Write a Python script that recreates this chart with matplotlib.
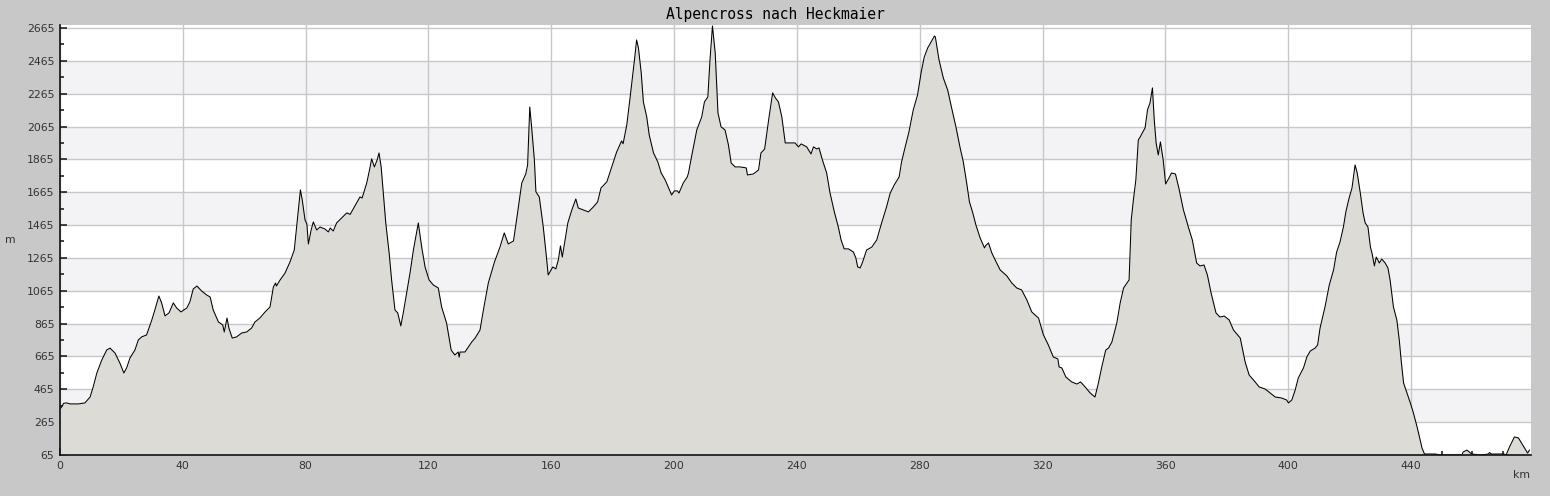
import matplotlib
matplotlib.use('Agg')
from matplotlib import pyplot as plt
from matplotlib.ticker import MultipleLocator, FixedLocator
import numpy as np

# track profile: distance (km) / elevation (m)
km = [0.0, 0.3, 1.2, 2.2, 3.3, 6.0, 8.1, 9.8, 10.8, 12.0, 13.6, 15.2, 16.3, 17.9, 19.5, 20.8, 21.7, 22.8,
      24.4, 25.5, 26.6, 28.2, 29.9, 30.9, 32.2, 33.1, 34.2, 35.5, 36.9, 38.0, 39.4, 41.3, 42.3, 43.4, 44.6,
      46.1, 47.8, 48.9, 49.9, 51.6, 53.0, 53.5, 54.4, 55.0, 56.1, 57.5, 59.2, 60.8, 62.4, 63.5, 65.1, 66.8,
      68.4, 69.5, 70.2, 70.5, 71.7, 73.3, 74.9, 76.3, 77.3, 78.3, 78.9, 79.8, 80.4, 80.9, 81.8, 82.5, 83.6,
      84.7, 86.3, 87.4, 88.0, 89.0, 90.1, 91.7, 93.4, 94.5, 95.5, 96.6, 97.7, 98.4, 99.9, 100.8, 101.5,
      102.4, 103.3, 103.9, 104.6, 105.3, 106.1, 107.2, 108.0, 109.1, 110.0, 111.0, 111.8, 112.9, 114.0,
      115.1, 116.7, 117.8, 118.9, 120.2, 121.6, 123.2, 124.3, 125.9, 127.4, 128.6, 129.7, 130.0, 130.3,
      131.9, 134.1, 135.2, 136.8, 137.9, 139.5, 141.5, 143.3, 144.7, 146.0, 147.7, 148.7, 150.4, 151.7,
      152.3, 153.0, 153.6, 154.5, 155.0, 156.1, 157.4, 158.3, 159.0, 160.5, 161.5, 162.3, 163.0, 163.6,
      165.4, 166.7, 168.0, 168.8, 170.5, 172.1, 173.7, 175.1, 176.2, 178.1, 179.7, 181.3, 182.9, 183.4,
      184.6, 185.7, 187.1, 187.8, 188.4, 189.3, 190.0, 191.1, 191.9, 193.3, 194.7, 195.8, 197.1, 198.2,
      199.2, 200.1, 201.1, 201.6, 203.0, 204.3, 204.7, 205.8, 207.4, 209.0, 209.9, 211.0, 211.7, 212.5,
      213.4, 214.3, 215.3, 216.6, 217.7, 218.6, 219.9, 221.5, 223.5, 223.9, 225.8, 227.5, 228.3, 229.5,
      230.8, 232.1, 233.0, 234.0, 235.1, 236.2, 237.8, 239.4, 240.5, 241.4, 243.2, 244.6, 245.4, 246.5,
      247.2, 248.3, 249.7, 250.8, 252.2, 253.5, 254.4, 255.4, 256.8, 258.4, 259.2, 259.8, 260.6, 261.3,
      262.7, 264.4, 266.0, 267.6, 269.2, 270.4, 271.7, 273.3, 274.1, 275.2, 276.5, 277.9, 279.3, 280.5,
      281.5, 282.6, 283.7, 284.8, 285.1, 286.3, 287.7, 289.1, 290.4, 291.8, 293.1, 294.2, 295.3, 296.2,
      297.2, 298.3, 299.7, 301.1, 301.5, 302.4, 303.5, 304.6, 306.2, 308.4, 310.0, 311.6, 313.2, 314.9,
      316.5, 318.7, 320.3, 321.9, 323.5, 325.0, 325.4, 326.3, 327.6, 329.5, 331.2, 332.4, 333.9, 335.5,
      337.1, 338.2, 339.3, 340.6, 341.5, 342.6, 344.2, 345.3, 346.4, 348.2, 348.9, 349.6, 350.4, 351.2,
      351.8, 352.5, 353.4, 354.2, 355.0, 355.8, 356.4, 357.0, 357.7, 358.4, 359.3, 360.1, 361.2, 362.0,
      363.3, 364.4, 365.9, 367.5, 368.8, 370.2, 371.3, 372.6, 373.7, 374.9, 376.5, 377.8, 379.2, 380.8,
      382.2, 384.4, 386.0, 387.3, 388.7, 390.6, 392.5, 394.1, 395.8, 397.9, 399.5, 400.1, 401.2, 402.3,
      403.3, 405.0, 406.1, 407.2, 408.8, 409.6, 410.4, 412.0, 413.4, 414.8, 415.8, 416.9, 418.0, 418.8,
      419.7, 420.8, 421.8, 422.5, 423.5, 424.4, 425.1, 426.0, 426.8, 427.3, 428.1, 428.7, 429.7, 430.5,
      431.6, 432.5, 433.2, 434.3, 435.4, 436.2, 436.8, 437.6, 438.7, 439.8, 440.8, 442.0, 443.0, 443.6,
      444.4, 447.9, 449.8, 456.6, 457.0, 458.2, 459.8, 463.0, 465.2, 465.6, 466.2, 467.8, 470.3, 471.0,
      472.1, 473.7, 475.0, 476.4, 478.0, 478.6]
elev = [351, 351, 380, 382, 376, 376, 382, 418, 479, 564, 643, 704, 716, 686, 625, 564, 595, 656,
        704, 765, 784, 796, 887, 948, 1033, 991, 912, 930, 991, 960, 936, 960, 997, 1076, 1094,
        1064, 1039, 1027, 948, 875, 857, 814, 899, 838, 777, 784, 808, 814, 838, 875, 899, 936,
        966, 1088, 1112, 1094, 1131, 1173, 1240, 1313, 1496, 1679, 1618, 1496, 1472, 1350, 1435, 1484, 1435,
        1453, 1441, 1423, 1447, 1429, 1478, 1508, 1539, 1530, 1563, 1600, 1636, 1630, 1721, 1800, 1868,
        1819, 1862, 1904, 1819, 1660, 1478, 1295, 1131, 948, 930, 851, 930, 1052, 1173,
        1313, 1478, 1331, 1210, 1131, 1100, 1082, 966, 869, 704, 674, 692, 661, 692,
        692, 753, 777, 826, 948, 1112, 1240, 1331, 1417, 1350, 1368, 1496, 1721, 1776,
        1831, 2184, 2063, 1862, 1667, 1636, 1453, 1295, 1161, 1210, 1198, 1252, 1338, 1270,
        1478, 1557, 1624, 1569, 1557, 1545, 1575, 1606, 1691, 1728, 1819, 1910, 1977, 1960,
        2075, 2245, 2470, 2592, 2543, 2391, 2215, 2123, 2014, 1904, 1850, 1782, 1740, 1691,
        1648, 1673, 1673, 1660, 1721, 1758, 1782, 1892, 2044, 2123, 2215, 2245, 2470, 2677,
        2513, 2148, 2063, 2044, 1953, 1843, 1819, 1819, 1813, 1770, 1776, 1800, 1904, 1928,
        2105, 2270, 2239, 2215, 2123, 1965, 1965, 1965, 1941, 1959, 1941, 1898, 1941, 1928,
        1935, 1862, 1782, 1660, 1545, 1453, 1374, 1320, 1320, 1301, 1265, 1210, 1204, 1234,
        1313, 1331, 1374, 1478, 1575, 1660, 1709, 1758, 1850, 1935, 2032, 2166, 2257, 2397,
        2489, 2543, 2580, 2616, 2610, 2470, 2360, 2288, 2178, 2063, 1941, 1850, 1721, 1606,
        1545, 1466, 1386, 1326, 1340, 1356, 1295, 1252, 1192, 1155, 1112, 1082, 1070, 1009,
        936, 899, 796, 735, 662, 650, 601, 595, 540, 510, 497, 510, 479, 443,
        418, 503, 601, 704, 716, 753, 869, 991, 1082, 1131, 1496, 1618, 1740, 1983,
        2001, 2026, 2056, 2166, 2208, 2300, 2105, 1965, 1892, 1971, 1862, 1715, 1752, 1782,
        1776, 1691, 1557, 1453, 1374, 1234, 1216, 1222, 1161, 1052, 930, 905, 911, 887,
        826, 777, 631, 552, 522, 479, 467, 443, 418, 412, 400, 382, 400, 461,
        534, 595, 662, 698, 716, 735, 838, 966, 1100, 1192, 1301, 1362, 1453, 1545,
        1618, 1691, 1831, 1782, 1660, 1539, 1478, 1453, 1331, 1295, 1216, 1270, 1234, 1258,
        1234, 1204, 1131, 966, 887, 765, 643, 503, 443, 382, 321, 236, 156, 108,
        71, 71, 65, 65, 83, 95, 71, 65, 71, 80, 71, 71, 71, 65,
        114, 175, 169, 126, 77, 95]

title = 'Alpencross nach Heckmaier'
yticks = [65, 265, 465, 665, 865, 1065, 1265, 1465, 1665, 1865, 2065, 2265, 2465, 2665]
xticks = [0, 40, 80, 120, 160, 200, 240, 280, 320, 360, 400, 440]

fig = plt.figure(figsize=(15.5, 4.96), dpi=100, facecolor='#c8c8c8')
ax = fig.add_axes([60/1550, 41/496, 1471/1550, 430/496])
ax.set_facecolor('white')

ymax = 2683
xmax = 479.1
# alternating background bands
for i in range(len(yticks) - 1):
    if i % 2 == 1:
        ax.axhspan(yticks[i], yticks[i+1], color='#f3f2f4', zorder=0, lw=0)

ax.fill_between(km, elev, 65, color='#dcdbd6', zorder=2, lw=0)
ax.plot(km, elev, color='black', lw=0.75, zorder=3)

ax.set_xlim(0, xmax)
ax.set_ylim(65, ymax)
ax.xaxis.set_major_locator(FixedLocator(xticks))
ax.xaxis.set_minor_locator(MultipleLocator(10))
ax.yaxis.set_major_locator(FixedLocator(yticks))
ax.yaxis.set_minor_locator(FixedLocator(np.arange(165, 2665, 200)))
ax.grid(True, which='major', color='#c8c8c8', lw=1.0, zorder=1)
ax.set_axisbelow(True)

for s in ['top', 'right']:
    ax.spines[s].set_visible(False)
for s in ['left', 'bottom']:
    ax.spines[s].set_color('#111111')
    ax.spines[s].set_linewidth(1.2)
    ax.spines[s].set_zorder(5)

ax.tick_params(which='major', direction='in', length=5, width=1.1, color='#111111',
               labelsize=7.8, labelcolor='#333333', pad=4)
ax.tick_params(which='minor', direction='in', length=3, width=1.1, color='#111111')

fig.text(775/1550, 1 - 14/496, title, ha='center', va='center',
         family='DejaVu Sans Mono', fontsize=10.5, color='black')
fig.text(10/1550, 1 - 240/496, 'm', ha='center', va='center', fontsize=7.8, color='#333333')
fig.text(1522/1550, 1 - 475/496, 'km', ha='center', va='center', fontsize=7.8, color='#333333')

fig.savefig('out.png', dpi=100, facecolor=fig.get_facecolor())
